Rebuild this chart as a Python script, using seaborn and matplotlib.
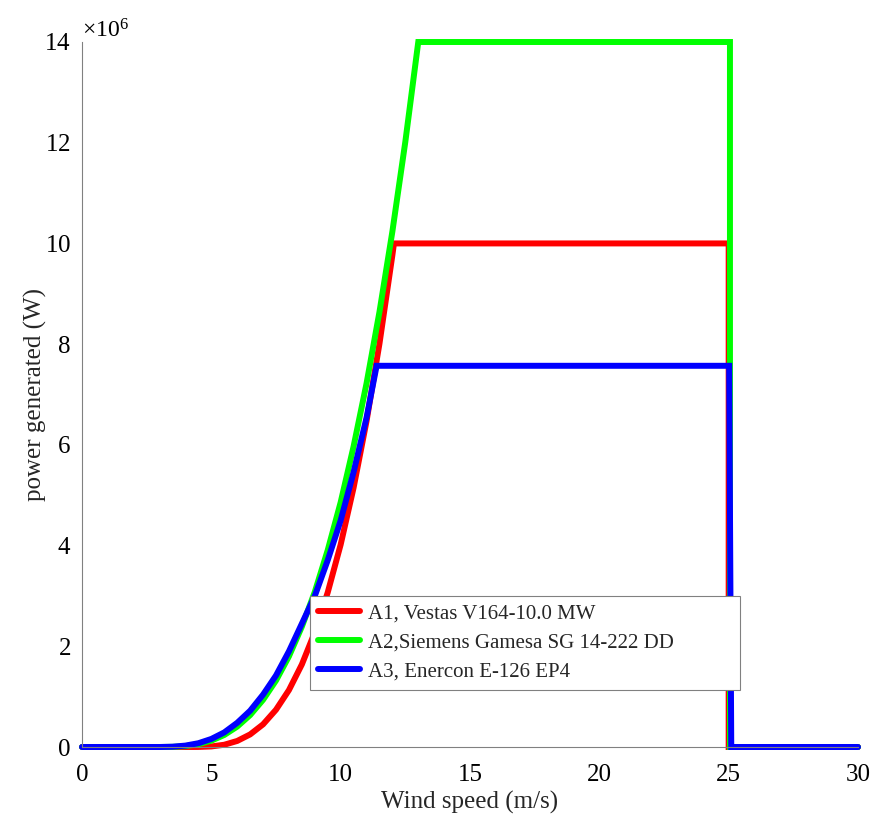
import matplotlib
matplotlib.use("Agg")
import matplotlib.pyplot as plt
import seaborn as sns
import pandas as pd

# ---- data (power in MW, converted to W below) ----
labels = ["A1, Vestas V164-10.0 MW",
          "A2,Siemens Gamesa SG 14-222 DD",
          "A3, Enercon E-126 EP4"]

speed_a1 = [0, 4.0, 4.5, 5.0, 5.5, 6.0, 6.5, 7.0, 7.5, 8.0, 8.5, 9.0, 9.5,
            10.0, 10.5, 11.0, 11.5, 12.0, 12.06, 25.0, 25.0, 30]
power_a1 = [0, 0, 0.001, 0.011, 0.045, 0.12, 0.25, 0.45, 0.74, 1.13, 1.64,
            2.28, 3.07, 4.02, 5.15, 6.47, 8.01, 9.77, 10.0, 10.0, 0, 0]

speed_a2 = [0, 3.0, 3.5, 4.0, 4.5, 5.0, 5.5, 6.0, 6.5, 7.0, 7.5, 8.0, 8.5,
            9.0, 9.5, 10.0, 10.5, 11.0, 11.5, 12.0, 12.5, 13.0, 25.05, 25.05, 30]
power_a2 = [0, 0, 0.003, 0.018, 0.056, 0.126, 0.239, 0.405, 0.634, 0.937,
            1.32, 1.80, 2.39, 3.08, 3.91, 4.86, 5.97, 7.22, 8.64, 10.24,
            12.02, 14.0, 14.0, 0, 0]

speed_a3 = [0, 3.0, 3.5, 4.0, 4.5, 5.0, 5.5, 6.0, 6.5, 7.0, 7.5, 8.0, 8.5,
            9.0, 9.5, 10.0, 10.5, 11.0, 11.39, 25.02, 25.1, 30]
power_a3 = [0, 0, 0.006, 0.028, 0.075, 0.16, 0.29, 0.48, 0.72, 1.04, 1.42,
            1.90, 2.45, 3.00, 3.71, 4.50, 5.46, 6.54, 7.57, 7.57, 0, 0]

colors = ["#FF0000", "#00FF00", "#0000FF"]

frames = []
for lab, sp, pw in zip(labels, [speed_a1, speed_a2, speed_a3],
                       [power_a1, power_a2, power_a3]):
    frames.append(pd.DataFrame({"speed": sp,
                                "power": [p * 1e6 for p in pw],
                                "turbine": lab}))
df = pd.concat(frames, ignore_index=True)

# ---- style ----
sns.set_theme(style="white")
plt.rcParams["font.family"] = ["Liberation Serif", "DejaVu Serif"]
plt.rcParams["mathtext.fontset"] = "custom"
plt.rcParams["mathtext.rm"] = "Liberation Serif"
plt.rcParams["mathtext.it"] = "Liberation Serif:italic"

fig = plt.figure(figsize=(8.82, 8.16), dpi=100)
ax = fig.add_axes([82 / 882, 69 / 816, 776 / 882, 705 / 816])

sns.lineplot(data=df, x="speed", y="power", hue="turbine",
             palette=colors, sort=False, estimator=None,
             linewidth=4.3, ax=ax, legend=False)
for ln in ax.lines:
    ln.set_clip_on(False)
    ln.set_solid_joinstyle("miter")

ax.set_xlim(0, 30)
ax.set_ylim(0, 14e6)
ax.set_xticks([0, 5, 10, 15, 20, 25, 30])
ax.set_yticks([0, 2e6, 4e6, 6e6, 8e6, 10e6, 12e6, 14e6])
ax.ticklabel_format(axis="y", style="sci", scilimits=(6, 6), useMathText=True)
ax.yaxis.get_offset_text().set_fontsize(17)

for side in ["top", "right"]:
    ax.spines[side].set_visible(False)
for side in ["left", "bottom"]:
    ax.spines[side].set_color("#808080")
    ax.spines[side].set_linewidth(0.8)

ax.tick_params(axis="both", direction="in", length=4, width=0.8,
               color="#808080", labelsize=18, labelcolor="black", pad=8)
ax.tick_params(axis="x", pad=12)

ax.set_xlabel("Wind speed (m/s)", fontsize=18, labelpad=4)
ax.set_ylabel("power generated (W)", fontsize=18, labelpad=-2)

handles = [plt.Line2D([], [], color=c, lw=4.3) for c in colors]
leg = ax.legend(handles, labels, loc="lower left",
                bbox_to_anchor=(0.294, 0.081, 0.554, 0.128),
                mode="expand", fontsize=15, frameon=True, fancybox=False,
                edgecolor="#808080", framealpha=1, borderaxespad=0,
                handlelength=2.0, handletextpad=0.4, labelspacing=0.45,
                borderpad=0.4)
leg.get_frame().set_linewidth(0.8)

fig.savefig("out.png", dpi=100)
